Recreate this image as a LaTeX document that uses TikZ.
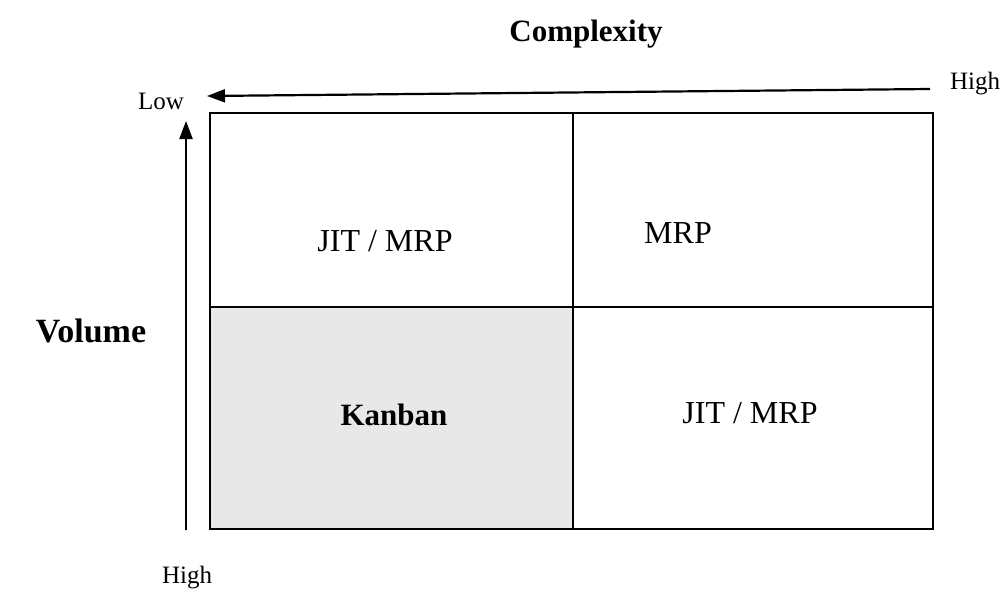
\documentclass[tikz,border=0pt]{standalone}
\usepackage{fontspec}
\setmainfont{Liberation Serif}
\usetikzlibrary{arrows.meta}
\begin{document}
\begin{tikzpicture}[x=1pt,y=-1pt,
  cell/.style={draw=black,line width=1.8pt,inner sep=0pt,anchor=north west},
  leftcol/.style={minimum width=363pt},
  rightcol/.style={minimum width=360pt},
  toprow/.style={minimum height=194pt},
  botrow/.style={minimum height=222pt},
  celltext/.style={font=\fontsize{32}{36}\selectfont},
  axistitle/.style={font=\bfseries\fontsize{31}{36}\selectfont},
  endlabel/.style={font=\fontsize{25}{29}\selectfont},
  axisarrow/.style={line width=2.2pt,-{Triangle[length=18pt,width=13pt]}}]
\useasboundingbox (0,0) rectangle (1005,592);
% matrix cells
\node[cell,leftcol,botrow,fill=black!9] (kanban) at (209,306) {};
\node[cell,leftcol,toprow] (tl) at (209,112) {};
\node[cell,rightcol,toprow] (tr) at (572,112) {};
\node[cell,rightcol,botrow] (br) at (572,306) {};
% cell texts
\node[celltext] (tltext) at (385,241) {JIT / MRP};
\node[celltext] (trtext) at (678,233) {MRP};
\node[celltext,font=\bfseries\fontsize{31}{35}\selectfont] (kanbantext) at (394,415) {Kanban};
\node[celltext] (brtext) at (750,413) {JIT / MRP};
% axis titles
\node[axistitle] (complexity) at (586,34) {Complexity};
\node[axistitle,font=\bfseries\fontsize{34}{38}\selectfont] (volume) at (91,331) {Volume};
% axis end labels
\node[endlabel] (lowlbl) at (161,101) {Low};
\node[endlabel] (hightop) at (975,84) {High};
\node[endlabel] (highbot) at (187,578) {High};
% complexity axis, from high to low
\coordinate (cstart) at (930,89);
\coordinate (cend) at (207,96);
\draw[axisarrow] (cstart) -- (cend);
% volume axis, from high to low
\coordinate (vstart) at (186,530);
\coordinate (vend) at (186,121);
\draw[axisarrow] (vstart) -- (vend);
\end{tikzpicture}
\end{document}
